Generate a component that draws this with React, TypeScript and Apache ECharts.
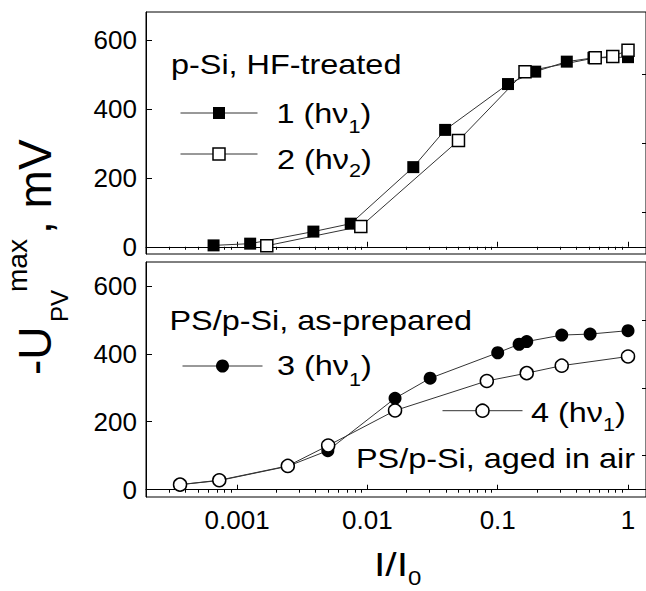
import React, { useEffect, useRef } from 'react';
import * as echarts from 'echarts';

// ---- data ----
const s1X = [0.00066, 0.00126, 0.00385, 0.00745, 0.0225, 0.0395, 0.12, 0.194, 0.339, 0.543, 1.0];
const s1Y = [4, 9, 44, 67, 231, 339, 472, 508, 537, 548, 550];
const s2X = [0.00169, 0.0089, 0.05, 0.162, 0.56, 0.764, 1.0];
const s2Y = [3, 59, 308, 508, 548, 552, 570];
const s3X = [0.000365, 0.00073, 0.00245, 0.00497, 0.0163, 0.0303, 0.1, 0.146, 0.167, 0.31, 0.512, 1.0];
const s3Y = [15, 27, 69, 115, 269, 328, 403, 428, 436, 455, 458, 468];
const s4X = [0.000365, 0.00073, 0.00245, 0.005, 0.0163, 0.0825, 0.167, 0.31, 1.0];
const s4Y = [15, 28, 70, 130, 233, 320, 343, 365, 392];

const xMajorTicks = [0.001, 0.01, 0.1, 1];
const xTickLabels = ['0.001', '0.01', '0.1', '1'];
const xMinorTicks: number[] = [];
for (const dec of [0.0001, 0.001, 0.01, 0.1]) {
  for (let k = 2; k <= 9; k++) {
    const v = +(k * dec).toPrecision(3);
    if (v > 0.00025) xMinorTicks.push(v);
  }
}
const yMajorTicks = [0, 200, 400, 600];
const yMinorTicks = [100, 300, 500];

const FONT = '"Liberation Sans", Arial, Helvetica, sans-serif';
const X_MIN = 0.0002;
const X_MAX = 1.374;

const pairs = (xs: number[], ys: number[]) => xs.map((x, i) => [x, ys[i]]);

function txt(text: string, x: number, y: number, fs: number, sx = 1.2, rot = 0) {
  return {
    type: 'text',
    x,
    y,
    scaleX: sx,
    rotation: rot,
    silent: true,
    style: {
      text,
      fontSize: fs,
      fontFamily: FONT,
      fill: '#000',
      align: 'left',
      verticalAlign: 'middle',
      textAlign: 'left',
      textVerticalAlign: 'middle',
    },
  };
}

function xAxes(gridIndex: number, withLabels: boolean) {
  const base = {
    type: 'log',
    logBase: 10,
    gridIndex,
    min: X_MIN,
    max: X_MAX,
    splitLine: { show: false },
  };
  return [
    {
      ...base,
      axisLine: { show: true, lineStyle: { color: '#000', width: 1 } },
      axisTick: { show: true, inside: true, length: 5, customValues: xMajorTicks, lineStyle: { color: '#000' } },
      axisLabel: withLabels
        ? {
            show: true,
            customValues: xMajorTicks,
            fontSize: 26,
            fontFamily: FONT,
            color: '#000',
            margin: 10,
            formatter: (v: number) => {
              const i = xMajorTicks.findIndex((t) => Math.abs(Math.log10(t) - Math.log10(v)) < 1e-6);
              return i >= 0 ? xTickLabels[i] : '';
            },
          }
        : { show: false },
    },
    {
      ...base,
      axisLine: { show: false },
      axisTick: { show: true, inside: true, length: 3, customValues: xMinorTicks, lineStyle: { color: '#000' } },
      axisLabel: { show: false },
    },
  ];
}

function yAxes(gridIndex: number, min: number, max: number) {
  const base = { type: 'value', gridIndex, min, max, splitLine: { show: false } };
  return [
    {
      ...base,
      axisLine: { show: true, lineStyle: { color: '#000', width: 1 } },
      axisTick: { show: true, inside: true, length: 6, customValues: yMajorTicks, lineStyle: { color: '#000' } },
      axisLabel: { show: true, customValues: yMajorTicks, fontSize: 26, fontFamily: FONT, color: '#000', margin: 9 },
    },
    {
      ...base,
      axisLine: { show: false },
      axisTick: { show: true, inside: true, length: 4, customValues: yMinorTicks, lineStyle: { color: '#000' } },
      axisLabel: { show: false },
    },
  ];
}

function legendFor(name: string, left: number, centerY: number, w: number, h: number, itemStyle: any) {
  return {
    data: [name],
    left,
    top: centerY - h / 2,
    orient: 'horizontal',
    itemWidth: w,
    itemHeight: h,
    padding: 0,
    itemGap: 0,
    selectedMode: false,
    formatter: () => '',
    textStyle: { fontSize: 8 },
    itemStyle,
    lineStyle: { color: '#333', width: 1 },
  };
}

const filled = { color: '#000', borderColor: '#000', borderWidth: 0 };
const open = { color: '#fff', borderColor: '#000', borderWidth: 1.5 };

export default function App() {
  const ref = useRef<HTMLDivElement>(null);
  useEffect(() => {
    if (!ref.current) return;
    const chart = echarts.init(ref.current, null, { renderer: 'svg' });
    const lineStyle = { color: '#333', width: 1 };
    chart.setOption({
      animation: false,
      backgroundColor: '#fff',
      grid: [
        { left: 146, top: 12, width: 500, height: 242, show: true, borderColor: '#000', borderWidth: 1, backgroundColor: 'transparent' },
        { left: 146, top: 262, width: 500, height: 235, show: true, borderColor: '#000', borderWidth: 1, backgroundColor: 'transparent' },
      ],
      xAxis: [...xAxes(0, false), ...xAxes(1, true)],
      yAxis: [...yAxes(0, -21, 681), ...yAxes(1, -21.4, 670)],
      legend: [
        legendFor('1', 180, 113, 77, 15, filled),
        legendFor('2', 180, 154, 77, 15, open),
        legendFor('3', 182, 366, 80, 16.25, filled),
        legendFor('4', 442, 410.7, 80, 16.25, open),
      ],
      series: [
        { name: '1', type: 'line', xAxisIndex: 0, yAxisIndex: 0, data: pairs(s1X, s1Y), symbol: 'rect', symbolSize: 12, itemStyle: filled, lineStyle },
        { name: '2', type: 'line', xAxisIndex: 0, yAxisIndex: 0, data: pairs(s2X, s2Y), symbol: 'rect', symbolSize: 12, itemStyle: open, lineStyle },
        { name: '3', type: 'line', xAxisIndex: 2, yAxisIndex: 2, data: pairs(s3X, s3Y), symbol: 'circle', symbolSize: 13, itemStyle: filled, lineStyle },
        { name: '4', type: 'line', xAxisIndex: 2, yAxisIndex: 2, data: pairs(s4X, s4Y), symbol: 'circle', symbolSize: 13, itemStyle: open, lineStyle },
      ],
      graphic: [
        // top panel texts
        txt('p-Si, HF-treated', 171, 64.6, 27),
        txt('1 (h\u03bd', 276.5, 113.6, 27),
        txt('1', 348.5, 126.8, 18),
        txt(')', 360.5, 113.6, 27),
        txt('2 (h\u03bd', 277, 159, 27),
        txt('2', 349, 170.4, 18),
        txt(')', 361, 159, 27),
        // bottom panel texts
        txt('PS/p-Si, as-prepared', 169.5, 320.6, 27),
        txt('3 (h\u03bd', 277, 365.6, 27),
        txt('1', 349, 379.8, 18),
        txt(')', 361, 365.6, 27),
        txt('4 (h\u03bd', 531, 412.3, 27),
        txt('1', 603, 424.8, 18),
        txt(')', 615, 412.3, 27),
        txt('PS/p-Si, aged in air', 356, 458.6, 27),
        // x axis title
        txt('I/I', 374, 564, 34),
        txt('0', 408, 578, 20),
        // y axis title (rotated)
        txt('-U', 35.1, 375, 46, 1, Math.PI / 2),
        txt('PV', 59.7, 322, 24, 1, Math.PI / 2),
        txt('max', 17.3, 292, 28, 1, Math.PI / 2),
        txt(', mV', 35.1, 234, 46, 1, Math.PI / 2),
      ],
    });
    return () => chart.dispose();
  }, []);
  return <div ref={ref} style={{ width: 646, height: 591, position: 'absolute', left: 0, top: 0 }} />;
}
